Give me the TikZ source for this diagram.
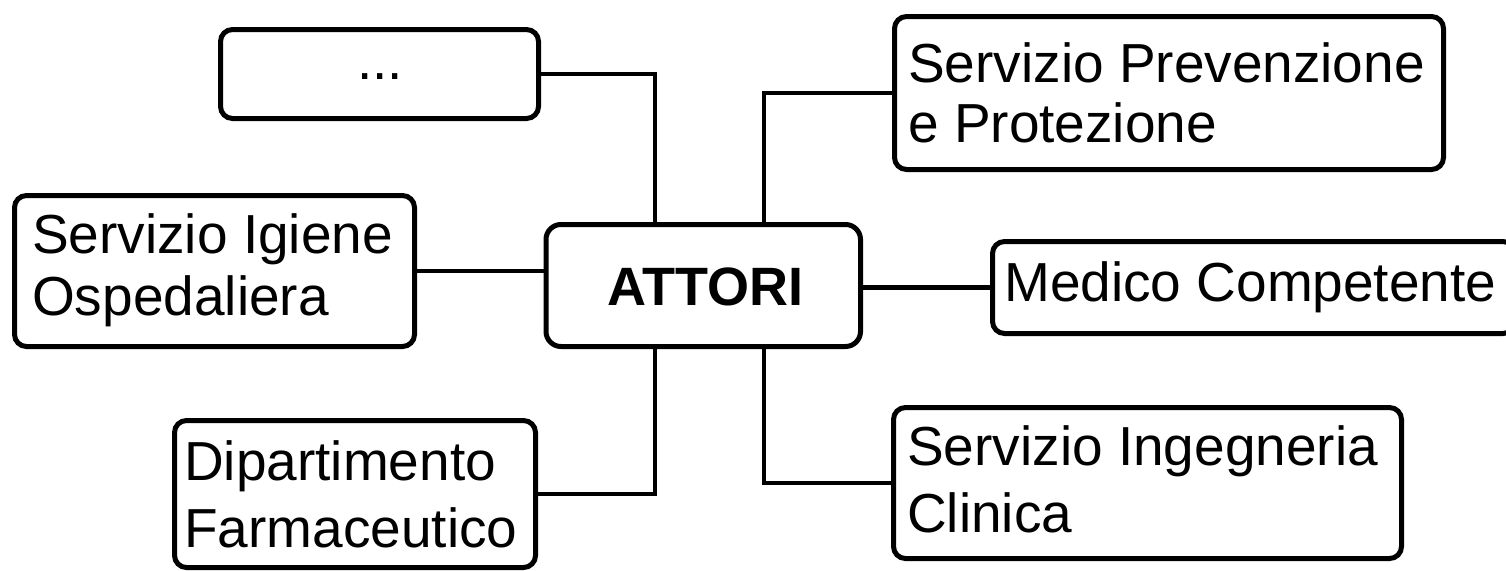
\documentclass[tikz,border=0pt]{standalone}
\usepackage{fontspec}
\setmainfont{Liberation Sans}
\begin{document}
\begin{tikzpicture}[x=1pt,y=-1pt,
  box/.style={draw=black, line width=5pt, rounded corners=12pt, inner sep=0pt, fill=white},
  conn/.style={draw=black, line width=4.5pt},
  txt/.style={inner sep=0pt, align=left, anchor=north west},
  lbl/.style={inner sep=0pt}]
\clip (0,0) rectangle (1506,570);
\fill[white] (0,0) rectangle (1506,570);
\path[use as bounding box] (0,0) rectangle (1506,570);
% boxes
\node[box, minimum width=318pt, minimum height=89pt] (dots) at (379.5,74) {};
\node[box, minimum width=400pt, minimum height=151pt] (igiene) at (214.5,271) {};
\node[box, rounded corners=15pt, minimum width=314.5pt, minimum height=122pt] (attori) at (703.25,285.5) {};
\node[box, minimum width=549pt, minimum height=153pt] (spp) at (1169,93) {};
\node[box, minimum width=522.5pt, minimum height=92pt] (medico) at (1253.75,287.5) {};
\node[box, minimum width=361pt, minimum height=147pt] (dip) at (355,494) {};
\node[box, minimum width=508pt, minimum height=151pt] (ing) at (1147.5,483) {};
% connectors
\draw[conn] (dots.east) -| ([xshift=-48.25pt]attori.north);
\draw[conn] (igiene.east) -- (igiene.east -| attori.west);
\draw[conn] ([xshift=60.75pt]attori.north) |- (spp.west);
\draw[conn] (medico.west -| attori.east) -- (medico.west);
\draw[conn] ([xshift=60.75pt]attori.south) |- (ing.west);
\draw[conn] ([xshift=-48.25pt]attori.south) |- (dip.east);
% texts
\node[lbl, anchor=base, font=\fontsize{55}{62}\selectfont] (tdots) at (380,79) {...};
\node[lbl, anchor=base, font=\bfseries\fontsize{54}{62}\selectfont] (tattori) at (705,305) {ATTORI};
\node[txt, font=\fontsize{55}{62}\selectfont] (tigiene) at (32,213) {\rule{0pt}{40pt}Servizio Igiene\\Ospedaliera};
\node[txt, font=\fontsize{55}{60}\selectfont] (tspp) at (908,42) {\rule{0pt}{40pt}Servizio Prevenzione\\e Protezione};
\node[lbl, anchor=base west, font=\fontsize{55}{62}\selectfont] (tmedico) at (1004,301) {Medico Competente};
\node[txt, font=\fontsize{55}{67}\selectfont] (ting) at (907,425) {\rule{0pt}{40pt}Servizio Ingegneria\\Clinica};
\node[txt, font=\fontsize{55}{67}\selectfont] (tdip) at (184,440) {\rule{0pt}{40pt}Dipartimento\\Farmaceutico};
\end{tikzpicture}
\end{document}
